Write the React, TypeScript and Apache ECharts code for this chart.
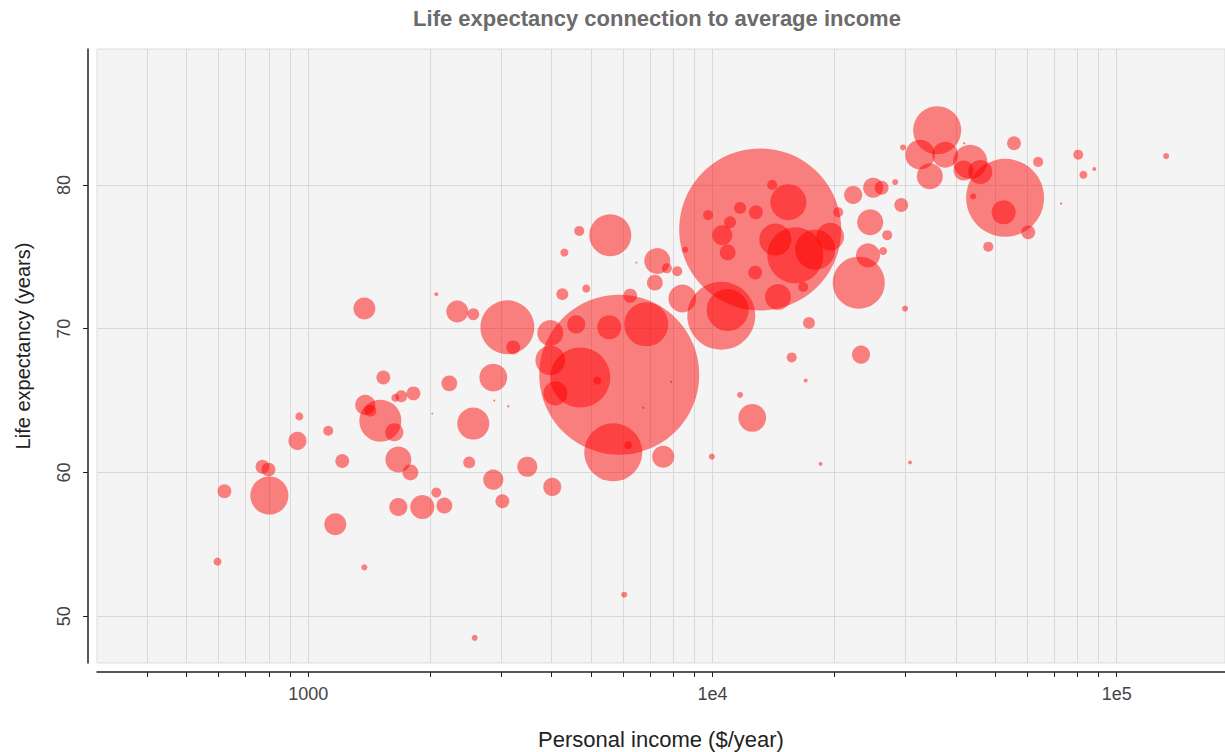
import { useEffect, useRef } from "react";
import * as echarts from "echarts";

// Personal income ($/year)
const income = [
  596, 620, 770, 797, 801, 940, 950, 1120, 1213, 1166, 1376, 1376, 1533, 1383, 1424, 1507, 1632, 1698, 1641, 1820,
  1670, 1788, 1670, 1914, 2073, 2170, 2073, 2336, 2559, 3107, 3213, 2232, 2868, 2559, 2500, 2868, 3020, 2580, 2026, 2884,
  3123,
  5585, 4680, 4300, 4250, 4870, 3968, 3968, 4083, 4708, 4600, 5552, 6855, 6256, 5877, 5680, 7550, 6047, 7300, 7710, 8180,
  7200, 8420, 6480, 3481, 4013, 9960, 7900, 6740, 5186, 6186,
  13120, 15400, 14050, 9750, 8560, 10570, 10900, 11700, 12800, 11050, 12750, 14520, 10510, 10900, 16020, 14300, 19550,
  17950, 16760, 22280, 24970, 26200, 28300, 29300, 24550, 27050, 26430, 24250, 23000, 29950, 17320, 15700, 23300, 12540,
  11700, 17000, 18500, 30800, 20460,
  35960, 32630, 37630, 34480, 43400, 45950, 41800, 29600, 41940, 55700, 63900, 52950, 52500, 60400, 48100, 44150, 72860,
  80300, 82700, 88000, 132500,
];

// Life expectancy (years)
const lifeExpectancy = [
  53.8, 58.7, 60.4, 60.2, 58.4, 62.2, 63.9, 62.9, 60.8, 56.4, 53.4, 71.4, 66.6, 64.7, 64.3, 63.6, 62.8, 65.3, 65.2, 65.5,
  60.9, 60.0, 57.6, 57.6, 58.6, 57.7, 72.4, 71.2, 71.0, 70.1, 68.7, 66.2, 66.6, 63.4, 60.7, 59.5, 58.0, 48.5, 64.1, 65.0,
  64.6,
  76.5, 76.8, 75.3, 72.4, 72.8, 69.7, 67.8, 65.5, 66.6, 70.3, 70.1, 70.3, 72.3, 66.8, 61.4, 61.1, 51.5, 74.7, 74.2, 74.0,
  73.2, 72.1, 74.6, 60.4, 59.0, 61.1, 66.3, 64.5, 66.4, 61.9,
  76.9, 78.8, 80.0, 77.9, 75.5, 76.5, 75.3, 78.4, 78.1, 77.4, 73.9, 72.2, 70.9, 71.3, 75.1, 76.2, 76.4, 75.5, 72.9, 79.3,
  79.8, 79.8, 80.2, 78.6, 77.4, 76.5, 75.4, 75.1, 73.2, 71.4, 70.4, 68.0, 68.2, 63.8, 65.4, 66.4, 60.6, 60.7, 78.1,
  83.8, 82.1, 82.1, 80.6, 81.6, 80.9, 81.0, 82.6, 82.9, 82.9, 81.6, 79.1, 78.1, 76.7, 75.7, 79.2, 78.7, 82.1, 80.7, 81.1,
  82.0,
];

// Population (millions) -> bubble area
const population = [
  3.3, 10, 10, 10, 75, 17, 3.3, 5.2, 10, 25, 1.9, 25, 10, 21, 7.4, 91, 17, 7.4, 3.3, 10,
  35, 13, 17, 30, 5.2, 13, 0.8, 25, 7.4, 150, 10, 13, 40, 53, 7.4, 21, 10, 1.9, 0.2, 0.2,
  0.3,
  91, 5.2, 3.3, 7.4, 3.3, 35, 46, 30, 186, 17, 30, 100, 10, 1322, 174, 25, 1.9, 35, 5.2, 5.2,
  13, 40, 0.2, 21, 17, 1.9, 0.3, 0.3, 3.3, 3.3,
  1356, 67, 5.2, 5.2, 1.9, 21, 13, 7.4, 10, 7.4, 10, 35, 239, 91, 162, 53, 40, 83, 5.2, 17,
  21, 10, 1.9, 10, 35, 5.2, 3.3, 30, 140, 1.9, 7.4, 5.2, 17, 40, 1.9, 0.8, 0.8, 0.8, 5.2,
  119, 46, 35, 35, 60, 30, 21, 1.9, 0.3, 10, 5.2, 314, 30, 10, 5.2, 1.9, 0.3, 5.2, 3.3, 0.8,
  1.9,
];

const xTickValues = [
  400, 500, 600, 700, 800, 900, 1000, 2000, 3000, 4000, 5000, 6000, 7000, 8000, 9000, 10000, 20000, 30000, 40000, 50000,
  60000, 70000, 80000, 90000, 100000,
];
const xLabelValues = [1000, 10000, 100000];
const xLabelTexts = ["1000", "1e4", "1e5"];
const yTickValues = [50, 60, 70, 80];

const FONT = "'Liberation Sans', Arial, Helvetica, sans-serif";

export default function App() {
  const ref = useRef<HTMLDivElement>(null);

  useEffect(() => {
    if (!ref.current) return;
    const chart = echarts.init(ref.current, null, { renderer: "svg" });
    const data = income.map((x, i) => [x, lifeExpectancy[i], population[i]]);
    chart.setOption({
      animation: false,
      backgroundColor: "#ffffff",
      textStyle: { fontFamily: FONT },
      title: {
        text: "Life expectancy connection to average income",
        left: 652,
        top: 2,
        textAlign: "center",
        textStyle: { fontFamily: FONT, fontSize: 22, fontWeight: "bold", color: "#6b6b6b" },
      },
      grid: {
        left: 97,
        right: 0,
        top: 49,
        bottom: 89,
        show: true,
        backgroundColor: "#f4f4f4",
        borderColor: "#dddddd",
        borderWidth: 1,
        containLabel: false,
        outerBoundsMode: "none",
      },
      xAxis: {
        type: "log",
        logBase: 10,
        min: 300,
        max: 185300,
        offset: 9,
        name: "Personal income ($/year)",
        nameLocation: "middle",
        nameGap: 56,
        nameTextStyle: { fontFamily: FONT, fontSize: 22, color: "#222222" },
        axisLine: { show: true, onZero: false, lineStyle: { color: "#222222", width: 1.5 } },
        axisTick: { show: true, inside: false, length: 5, customValues: xTickValues, lineStyle: { color: "#222222", width: 1 } },
        axisLabel: {
          show: true,
          customValues: xLabelValues,
          margin: 13,
          fontFamily: FONT,
          fontSize: 18,
          color: "#444444",
          formatter: (v: number) => {
            const idx = xLabelValues.findIndex((t) => Math.abs(t - v) / t < 1e-6);
            return idx >= 0 ? xLabelTexts[idx] : "";
          },
        },
        splitLine: { show: true, lineStyle: { color: "#d9d9d9", width: 1 } },
        minorTick: { show: false },
        minorSplitLine: { show: false },
      },
      yAxis: {
        type: "value",
        min: 46.75,
        max: 89.45,
        offset: 9,
        name: "Life expectancy (years)",
        nameLocation: "middle",
        nameGap: 55,
        nameTextStyle: { fontFamily: FONT, fontSize: 20, color: "#222222", padding: [0, 0, 0, 20] },
        axisLine: { show: true, onZero: false, lineStyle: { color: "#222222", width: 1.5 } },
        axisTick: { show: true, inside: false, length: 5, customValues: yTickValues, lineStyle: { color: "#222222", width: 1 } },
        axisLabel: {
          show: true,
          customValues: yTickValues,
          rotate: 90,
          margin: 15,
          fontFamily: FONT,
          fontSize: 18,
          color: "#444444",
        },
        splitLine: { show: true, lineStyle: { color: "#d9d9d9", width: 1 } },
      },
      series: [
        {
          type: "scatter",
          data,
          symbol: "circle",
          symbolSize: (v: number[]) => 4.4 * Math.sqrt(v[2]),
          itemStyle: { color: "rgba(255,0,0,0.6)", borderWidth: 0 },
          emphasis: { disabled: true },
          silent: true,
        },
      ],
    });
    return () => chart.dispose();
  }, []);

  return (
    <div
      ref={ref}
      style={{ position: "fixed", left: 0, top: 0, width: 1225, height: 752, background: "#ffffff" }}
    />
  );
}
